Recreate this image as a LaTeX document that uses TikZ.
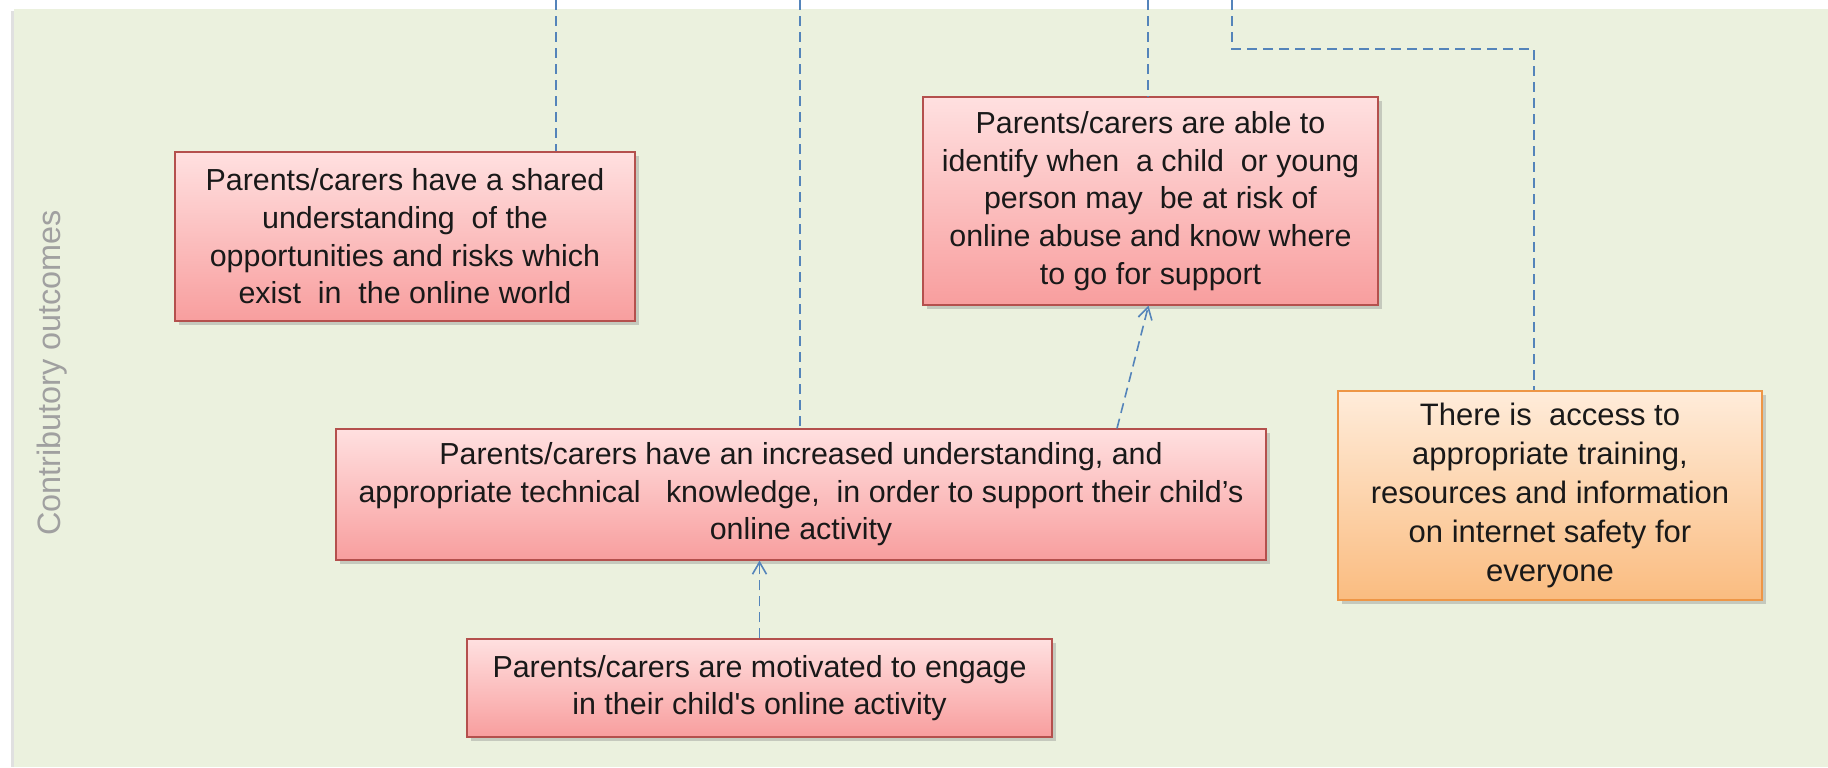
\documentclass[tikz,border=0pt]{standalone}
\usepackage{fontspec}
\setmainfont{Liberation Sans}
\usetikzlibrary{calc,positioning,arrows.meta,shadows}
\definecolor{panelgreen}{RGB}{235,241,222}
\definecolor{redtop}{RGB}{255,224,224}
\definecolor{redbot}{RGB}{248,158,158}
\definecolor{redline}{RGB}{180,80,77}
\definecolor{orangetop}{RGB}{255,236,218}
\definecolor{orangebot}{RGB}{250,188,128}
\definecolor{orangeline}{RGB}{238,150,70}
\definecolor{linkblue}{RGB}{84,132,186}
\definecolor{labelgray}{RGB}{160,160,160}

\begin{document}
\begin{tikzpicture}[x=0.5pt,y=-0.5pt]
\useasboundingbox (0,0) rectangle (1828,767);
\fill[black!12] (11,11) rectangle (14,767);
\fill[panelgreen] (14,9) rectangle (1828,767);
\node[rotate=90, text=labelgray, font=\fontsize{16.2}{19}\selectfont] (side) at (52,373) {Contributory outcomes};
\tikzstyle{outcome}=[draw=redline, line width=0.6pt, top color=redtop, bottom color=redbot, align=center, inner sep=0pt, text=black!90, font=\fontsize{15.2}{18.8}\selectfont, drop shadow={shadow xshift=2pt, shadow yshift=-2pt, opacity=0.35}]
\tikzstyle{resource}=[outcome, draw=orangeline, top color=orangetop, bottom color=orangebot, font=\fontsize{15.5}{19.5}\selectfont]
\tikzstyle{link}=[linkblue, line width=0.8pt, dash pattern=on 5pt off 3pt]
\node[outcome, minimum width=230pt, minimum height=84.5pt] (shared) at (405,236.5) {Parents/carers have a shared\\understanding\ \ of the\\opportunities and risks which\\exist\ \ in\ \ the online world};
\node[outcome, minimum width=227.5pt, minimum height=104pt] (identify) at (1150.5,201) {Parents/carers are able to\\identify when\ \ a child\ \ or young\\person may\ \ be at risk of\\online abuse and know where\\to go for support};
\node[outcome, minimum width=465pt, minimum height=65.5pt] (knowledge) at (801,494.5) {Parents/carers have an increased understanding, and\\appropriate technical\ \ \ knowledge,\ \ in order to support their child's\\online activity};
\node[outcome, minimum width=292.5pt, minimum height=49pt] (motivated) at (759.5,688) {Parents/carers are motivated to engage\\in their child\textquotesingle s online activity};
\node[resource, minimum width=212pt, minimum height=104.5pt] (access) at (1550,495.5) {There is\ \ access to\\appropriate training,\\resources and information\\on internet safety for\\everyone};
% links coming from above
\coordinate (topshared) at (556,0);
\coordinate (topknow) at (800,0);
\coordinate (topident) at (1148,0);
\coordinate (topaccess) at (1232,0);
\coordinate (bendA) at (1232,49);
\coordinate (bendB) at (1534,49);
\draw[link] (topshared) -- (topshared |- shared.north);
\draw[link] (topknow) -- (topknow |- knowledge.north);
\draw[link] (topident) -- (topident |- identify.north);
\draw[link] (topaccess) -- (bendA) -- (bendB) -- (bendB |- access.north);
% arrows between outcomes
\draw[link, -{Straight Barb[length=6pt, width=7pt]}] ([xshift=158pt]knowledge.north) -- ([xshift=-1pt]identify.south);
\draw[link, -{Straight Barb[length=6pt, width=7pt]}] (motivated.north) -- (motivated.north |- knowledge.south);
\end{tikzpicture}
\end{document}
